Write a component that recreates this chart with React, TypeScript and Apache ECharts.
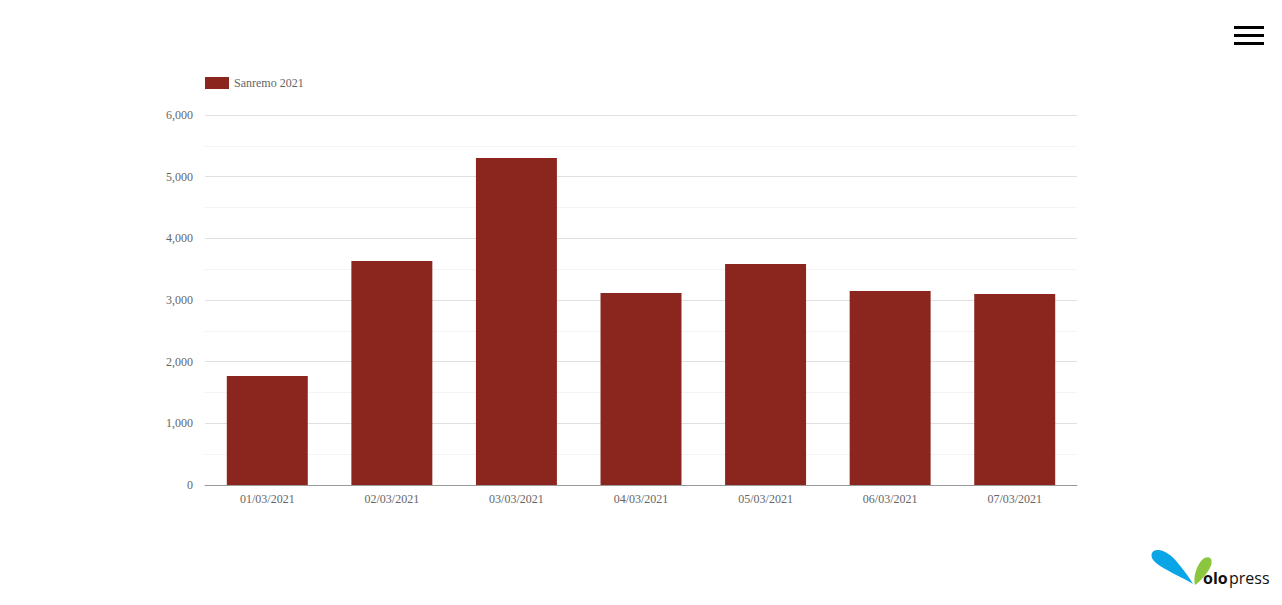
import React, { useEffect, useRef } from "react";
import * as echarts from "echarts";

const categories = ["01/03/2021", "02/03/2021", "03/03/2021", "04/03/2021", "05/03/2021", "06/03/2021", "07/03/2021"];
const seriesName = "Sanremo 2021";
const values = [1768, 3632, 5303, 3114, 3584, 3146, 3097];

echarts.graphic.registerShape(
  "blueDrop",
  echarts.graphic.extendPath(
    "M1193,584 C1184,578 1160,568 1154,561 C1149,555 1152,549 1159,550 C1166,551 1172,556 1177,562 C1183,569 1189,577 1193,584 Z",
    {}
  )
);
echarts.graphic.registerShape(
  "greenLeaf",
  echarts.graphic.extendPath(
    "M1195,585 C1193,577 1196,568 1201,561 C1204,557 1209,556 1211,559 C1213,563 1210,569 1206,574 C1202,579 1198,583 1195,585 Z",
    {}
  )
);

export default function App() {
  const ref = useRef<HTMLDivElement>(null);
  useEffect(() => {
    if (!ref.current) return;
    const chart = echarts.init(ref.current, undefined, { renderer: "svg" });
    const font = "'Liberation Serif', 'Times New Roman', serif";
    chart.setOption({
      animation: false,
      backgroundColor: "#ffffff",
      textStyle: { fontFamily: font },
      legend: {
        left: 205,
        top: 77,
        padding: 0,
        itemWidth: 24,
        itemHeight: 12,
        itemGap: 10,
        icon: "rect",
        textStyle: { color: "#666666", fontSize: 12, fontFamily: font },
        data: [seriesName],
      },
      grid: { left: 205, right: 205, top: 115, bottom: 120, containLabel: false },
      xAxis: {
        type: "category",
        data: categories,
        axisLine: { lineStyle: { color: "#999999", width: 1 } },
        axisTick: { show: false },
        axisLabel: { color: "#666666", fontSize: 12, fontFamily: font, margin: 8 },
        splitLine: { show: false },
      },
      yAxis: {
        type: "value",
        min: 0,
        max: 6000,
        interval: 1000,
        minorTick: { show: false, splitNumber: 2 },
        minorSplitLine: { show: true, lineStyle: { color: "#f3f3f3", width: 1 } },
        splitLine: { lineStyle: { color: "#e0e0e0", width: 1 } },
        axisLine: { show: false },
        axisTick: { show: false },
        axisLabel: {
          color: "#666666",
          fontSize: 12,
          fontFamily: font,
          margin: 12,
          formatter: (v: number) => v.toLocaleString("en-US"),
        },
      },
      series: [
        {
          name: seriesName,
          type: "bar",
          data: values,
          barWidth: "65%",
          itemStyle: { color: "#8b261f" },
        },
      ],
      graphic: [
        { type: "rect", shape: { x: 1234, y: 26, width: 30, height: 3 }, style: { fill: "#000" } },
        { type: "rect", shape: { x: 1234, y: 34, width: 30, height: 3 }, style: { fill: "#000" } },
        { type: "rect", shape: { x: 1234, y: 42, width: 30, height: 3 }, style: { fill: "#000" } },
        { type: "blueDrop", x: 0, y: 0, style: { fill: "#0aa5e6" } },
        { type: "greenLeaf", x: 0, y: 0, style: { fill: "#8cc63f" } },
        {
          type: "text",
          x: 1203,
          y: 586,
          style: {
            text: "olo",
            fill: "#111",
            font: "bold 16px 'Open Sans', sans-serif",
            textVerticalAlign: "bottom",
            textBaseline: "bottom",
          },
        },
        {
          type: "text",
          x: 1229,
          y: 586,
          style: {
            text: "press",
            fill: "#111",
            font: "16px 'Open Sans', sans-serif",
            textVerticalAlign: "bottom",
            textBaseline: "bottom",
          },
        },
      ],
    });
    return () => chart.dispose();
  }, []);
  return (
    <div
      ref={ref}
      style={{ position: "absolute", left: 0, top: 0, width: 1282, height: 605 }}
    />
  );
}
